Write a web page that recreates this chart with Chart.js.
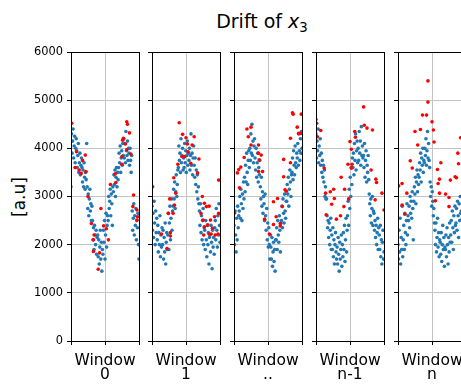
<!DOCTYPE html>
<html>
<head>
<meta charset="utf-8">
<script src="https://cdn.jsdelivr.net/npm/chart.js@4.4.1/dist/chart.umd.min.js"></script>
<style>
    body { margin: 0; width: 461px; height: 384px; overflow: hidden; background: #fff; position: relative; font-family: "DejaVu Sans", sans-serif; }
    canvas { position: absolute; }
    #title { position: absolute; left: 162px; top: 12px; width: 200px; text-align: center; font-size: 19px; line-height: 19px; color: #000; }
    #title sub { font-size: 70%; vertical-align: -4px; line-height: 0; }
    #ylabel { position: absolute; left: -11px; top: 186px; width: 60px; height: 22px; line-height: 22px; text-align: center; font-size: 17px; color: #000; transform: rotate(-90deg); }
</style>
</head>
<body>
<div id="title">Drift of <i>x</i><sub>3</sub></div>
<div id="ylabel">[a.u]</div>
<script>
// one label per window panel
var windowLabels = ["0", "1", "..", "n-1", "n"];
var yTickStep = 1000;
var yMax = 6000;

// blue samples, evenly spread across each window
var blue0 = [3200, 4300, 3900, 4150, 4400, 3800, 4050, 4250, 3700, 4000, 4200,
    3950, 3600, 3850, 4100, 3500, 3700, 3900, 3450, 3650, 3800,
    3600, 3300, 3550, 3200, 3700, 3400, 3150, 3500, 3350, 4100,
    3200, 2750, 3050, 2600, 2950, 3150, 2700, 2850, 2500, 2800,
    2500, 2100, 2350, 1900, 2400, 2200, 2000, 2300, 1800, 2150,
    2200, 1750, 2100, 1600, 1950, 2300, 1700, 2050, 1450, 1900,
    1800, 2300, 2050, 2500, 1700, 2200, 2650, 1950, 2400, 2600,
    2500, 3000, 2750, 2900, 3150, 2600, 3050, 2850, 2400, 3200,
    3100, 3450, 3250, 3550, 3000, 3400, 3600, 3200, 3500, 3350,
    3600, 3900, 3700, 4050, 3500, 3800, 3950, 3650, 4100, 3850,
    4200, 3800, 4100, 3700, 4350, 3950, 3850, 4150, 3750, 4000,
    3900, 3650, 4000, 3750, 3500, 3850,
    2700, 2300, 2550, 2850, 2200, 2600, 2400, 2750, 2100, 2500, 2350, 2650, 2000, 1700];
var blue1 = [2800, 2300, 2650, 2150, 2900, 2450, 2000, 2700, 2250, 2550,
    2100, 2400, 1850, 2250, 2000, 2600, 1750, 2200, 1950, 2350,
    2000, 2300, 1700, 2150, 1850, 2450, 1600, 2050, 2250, 1900,
    2200, 2650, 1900, 2450, 2800, 2100, 2550, 2950, 2300, 2700,
    2800, 3150, 2950, 3300, 2750, 3100, 3450, 3000, 3250, 3550,
    3600, 4050, 3750, 3900, 3500, 4200, 3700, 3850, 4000, 3550,
    3800, 3600, 4100, 3700, 3950, 3500, 3850, 4150, 3650, 3900,
    3750, 4000, 3550, 3850, 4300, 3650, 3900, 3450, 3800, 4050,
    3650, 3400, 3800, 3250, 3550, 3100, 3450, 2950, 3200, 2850,
    2700, 2400, 2850, 2250, 2600, 2100, 2500, 2750, 2000, 2350,
    2300, 1900, 2500, 2100, 1750, 2400, 2000, 2250, 1600, 2150,
    2200, 1850, 2400, 2050, 1500, 2300, 1950, 2150, 1800, 2350,
    2500, 2100, 2750, 2300, 1950, 2600, 2200, 2850, 2400, 2050];
var blue2 = [2400, 2000, 2700, 2200, 1850, 2550, 2100, 2800, 2350, 2600,
    2700, 3000, 2550, 3150, 2850, 2500, 3050, 2750, 3300, 2950,
    3400, 3100, 3650, 3300, 3900, 3500, 3250, 3750, 3950, 3600,
    4000, 3750, 4300, 3900, 4500, 3850, 4150, 3700, 4050, 4200,
    3800, 3550, 4000, 3400, 3700, 3900, 3300, 3600, 3450, 3750,
    3200, 2950, 3400, 2800, 3100, 2650, 3000, 2850, 2500, 3050,
    2600, 2300, 2750, 2100, 2450, 1950, 2350, 2000, 1700, 2200,
    1950, 1700, 2150, 1550, 1850, 2050, 1650, 1900, 1450, 2100,
    2100, 2350, 1900, 2500, 2200, 2050, 2600, 2300, 1850, 2450,
    2500, 2800, 2350, 2950, 2650, 2450, 3050, 2700, 2550, 2900,
    2900, 3250, 3050, 3400, 2800, 3150, 3550, 3300, 3000, 3450,
    3500, 3800, 3350, 3950, 3650, 3450, 4050, 3700, 3600, 3900,
    3800, 4100, 3650, 4300, 3950, 3750, 4200, 3900, 4350, 4000];
var blue3 = [4300, 3800, 4150, 3950, 4400, 3700, 4050, 3850, 4200, 3650,
    3900, 3500, 3750, 3400, 3650, 3300, 3550, 3000, 3200, 2950,
    2950, 2600, 2350, 2500, 2150, 2450, 2000, 2300, 2550, 1900,
    2200, 1900, 2350, 1750, 2100, 1600, 2000, 2250, 1850, 1700,
    1950, 1600, 2150, 1800, 1450, 2050, 1700, 1900, 2200, 1550,
    2000, 1750, 2250, 1900, 2400, 1650, 2100, 2550, 1850, 2300,
    2600, 2900, 2400, 3150, 2750, 3400, 3000, 3600, 3250, 3800,
    3600, 3900, 3450, 4100, 3750, 4300, 3550, 3950, 4150, 3700,
    4000, 3750, 4350, 3900, 4150, 3650, 4450, 3850, 4050, 3800,
    3850, 3600, 4100, 3400, 3750, 3950, 3300, 3650, 3500, 3850,
    3350, 3050, 2850, 2600, 2950, 2450, 2750, 3000, 2400, 2700,
    2650, 2300, 2500, 2150, 2400, 2000, 2250, 2550, 1900, 2350,
    2200, 1900, 2400, 1750, 2100, 1600, 2050, 2300, 1700, 1850];
var blue4 = [2000, 1700, 2300, 1850, 2550, 1600, 2150, 1900, 2800, 1750,
    2100, 2400, 1900, 2650, 2250, 2000, 2500, 2850, 2200, 2600,
    2500, 2800, 2350, 3000, 2650, 2900, 2550, 3100, 2750, 2100,
    2900, 3200, 3050, 3400, 2850, 3300, 3550, 3100, 3450, 3250,
    3400, 3700, 3550, 3900, 3300, 3800, 3650, 4000, 3500, 3750,
    3700, 4000, 3850, 4200, 3650, 3950, 4350, 3800, 4100, 3750,
    3600, 3300, 3000, 3200, 2800, 3100, 2900, 2600, 2750, 2450,
    2300, 2000, 2450, 1850, 2150, 2550, 1950, 2250, 1750, 2100,
    2050, 1800, 2250, 1650, 2000, 2400, 1900, 2150, 1550, 1950,
    1900, 2200, 1750, 2350, 2000, 1600, 2150, 1850, 2450, 2050,
    2200, 2500, 2050, 2700, 2350, 1900, 2600, 2250, 2800, 2400,
    2450, 2750, 2300, 2900, 2600, 2150, 2850, 2500, 3000, 2650,
    2700, 3000, 2550, 3150, 2800, 2400, 3050, 2650, 3250, 2900];

// red points: [position in window (0..1), value]
var red0 = [[0.01, 4520], [0.06, 3600], [0.08, 3930], [0.12, 3550], [0.15, 3480], [0.17, 3750], [0.21, 3860], [0.22, 3520],
    [0.25, 3000], [0.30, 2440], [0.33, 2100], [0.33, 1860], [0.34, 2200], [0.40, 1490], [0.42, 1830], [0.44, 2750],
    [0.48, 2390], [0.52, 2330], [0.55, 2100], [0.58, 3250], [0.65, 3470], [0.66, 3290], [0.75, 3670], [0.75, 3830],
    [0.76, 4170], [0.77, 4210], [0.80, 4090], [0.82, 4550], [0.82, 3970], [0.83, 4500], [0.86, 4320], [0.88, 3880],
    [0.91, 2790], [0.92, 3030], [0.97, 2720], [0.97, 2510], [0.98, 2580]];
var red1 = [[0.01, 3200], [0.14, 2220], [0.22, 1920], [0.24, 2650], [0.26, 2950], [0.27, 2250], [0.27, 2180], [0.31, 2650],
    [0.32, 3390], [0.33, 2820], [0.35, 3070], [0.38, 3670], [0.40, 4530], [0.44, 3830], [0.45, 4290], [0.48, 3830],
    [0.50, 4220], [0.52, 4090], [0.53, 3930], [0.57, 3690], [0.59, 4070], [0.62, 4240], [0.67, 3490], [0.69, 3780],
    [0.72, 2650], [0.74, 3000], [0.75, 2510], [0.76, 2200], [0.77, 2860], [0.77, 2370], [0.80, 2790], [0.82, 2410],
    [0.84, 2800], [0.84, 2220], [0.86, 2510], [0.87, 2220], [0.89, 2340], [0.92, 2580], [0.93, 2200], [0.97, 2220],
    [0.98, 2650], [0.98, 3340]];
var red2 = [[0.01, 2660], [0.05, 3490], [0.07, 3560], [0.08, 3180], [0.10, 3610], [0.15, 3810], [0.19, 4400], [0.21, 4240],
    [0.25, 4440], [0.25, 4070], [0.36, 4070], [0.36, 3900], [0.36, 3520], [0.37, 3760], [0.40, 3860], [0.42, 3520],
    [0.45, 2530], [0.52, 2220], [0.58, 2890], [0.58, 2420], [0.62, 2580], [0.64, 2960], [0.68, 2440], [0.68, 2390],
    [0.71, 2790], [0.73, 3770], [0.73, 3410], [0.75, 3140], [0.77, 3110], [0.83, 3700], [0.83, 4210], [0.86, 4740],
    [0.87, 4710], [0.93, 4440], [0.95, 4310], [0.98, 4310], [0.99, 4710]];
var red3 = [[0.00, 4600], [0.01, 4520], [0.02, 4240], [0.07, 4370], [0.12, 3590], [0.14, 3070], [0.15, 2620], [0.21, 3100],
    [0.23, 2840], [0.26, 3150], [0.27, 2960], [0.30, 2530], [0.36, 2600], [0.37, 3400], [0.41, 2790], [0.42, 3150],
    [0.47, 3670], [0.48, 2950], [0.50, 4140], [0.52, 3590], [0.52, 3980], [0.53, 3670], [0.57, 4350], [0.58, 4230],
    [0.70, 4860], [0.71, 4480], [0.75, 4420], [0.81, 3550], [0.83, 4380], [0.87, 2930], [0.88, 3360], [0.89, 3290],
    [0.97, 3070], [1.00, 2720]];
var red4 = [[0.01, 3220], [0.06, 3270], [0.06, 2820], [0.10, 2630], [0.13, 3070], [0.18, 3740], [0.21, 3590], [0.25, 4350],
    [0.29, 4070], [0.33, 4390], [0.36, 4690], [0.42, 4690], [0.44, 4960], [0.44, 5400], [0.50, 4550], [0.52, 4380],
    [0.53, 4130], [0.55, 2910], [0.58, 3560], [0.59, 3270], [0.61, 3360], [0.61, 3070], [0.63, 3700], [0.70, 3050],
    [0.75, 2980], [0.75, 2790], [0.77, 3340], [0.84, 3410], [0.86, 3390], [0.88, 3900], [0.89, 3680], [0.92, 4220]];

var blueSets = [blue0, blue1, blue2, blue3, blue4];
var redSets = [red0, red1, red2, red3, red4];

var FONT = "DejaVu Sans";
var PANEL_TOP = 52, PANEL_H = 289, PANEL_W = 68;
var panelLeft = [71, 152, 234, 316, 398];

// full box round each panel, like matplotlib spines
var framePlugin = {
    id: "frame",
    afterDraw(chart) {
        var a = chart.chartArea;
        var ctx = chart.ctx;
        ctx.save();
        ctx.strokeStyle = "#000";
        ctx.lineWidth = 1;
        ctx.strokeRect(Math.round(a.left) + 0.5, Math.round(a.top) + 0.5, Math.round(a.right - a.left), Math.round(a.bottom - a.top));
        ctx.restore();
    }
};

// hide grid lines that sit on the frame
var gridColor = c => (c.tick && (c.tick.value === 0 || c.tick.value === yMax || c.tick.value === 1)) ? "rgba(0,0,0,0)" : "#c4c4c4";

windowLabels.forEach((label, i) => {
    var padL = i === 0 ? 50 : 8;
    var padT = 16, padR = 6, padB = 46;
    var canvas = document.createElement("canvas");
    canvas.width = padL + PANEL_W + padR;
    canvas.height = padT + PANEL_H + padB;
    canvas.style.left = (panelLeft[i] - padL) + "px";
    canvas.style.top = (PANEL_TOP - padT) + "px";
    document.body.appendChild(canvas);

    var blue = blueSets[i];
    var bluePts = blue.map((v, k) => ({ x: k / (blue.length - 1), y: v }));
    var redPts = redSets[i].map(p => ({ x: p[0], y: p[1] }));

    new Chart(canvas, {
        type: "scatter",
        data: {
            datasets: [{
                data: redPts,
                backgroundColor: "#ff0000",
                pointRadius: 1.8,
                pointBorderWidth: 0
            }, {
                data: bluePts,
                backgroundColor: "#1f77b4",
                pointRadius: 1.8,
                pointBorderWidth: 0
            }]
        },
        options: {
            responsive: false,
            animation: false,
            events: [],
            layout: { padding: { left: 0, top: padT, right: padR, bottom: 0 } },
            plugins: { legend: { display: false }, tooltip: { enabled: false } },
            scales: {
                x: {
                    type: "linear",
                    min: 0,
                    max: 1,
                    ticks: { display: false, stepSize: 0.5 },
                    grid: { color: gridColor, tickColor: "#000", tickLength: 4, lineWidth: 1 },
                    border: { color: "#000", width: 1 },
                    title: {
                        display: true,
                        text: ["Window", label],
                        color: "#000",
                        font: { family: FONT, size: 15.5, lineHeight: 0.9 },
                        padding: { top: 0, bottom: 5 }
                    },
                    afterFit: s => { s.height = padB; }
                },
                y: {
                    type: "linear",
                    min: 0,
                    max: yMax,
                    ticks: {
                        display: i === 0,
                        stepSize: yTickStep,
                        color: "#000",
                        padding: 4,
                        font: { family: FONT, size: 11.4 },
                        callback: v => String(v)
                    },
                    grid: { color: gridColor, tickColor: "#000", tickLength: 4, lineWidth: 1 },
                    border: { color: "#000", width: 1 },
                    afterFit: s => { s.width = padL; }
                }
            }
        },
        plugins: [framePlugin]
    });
});
</script>
</body>
</html>
